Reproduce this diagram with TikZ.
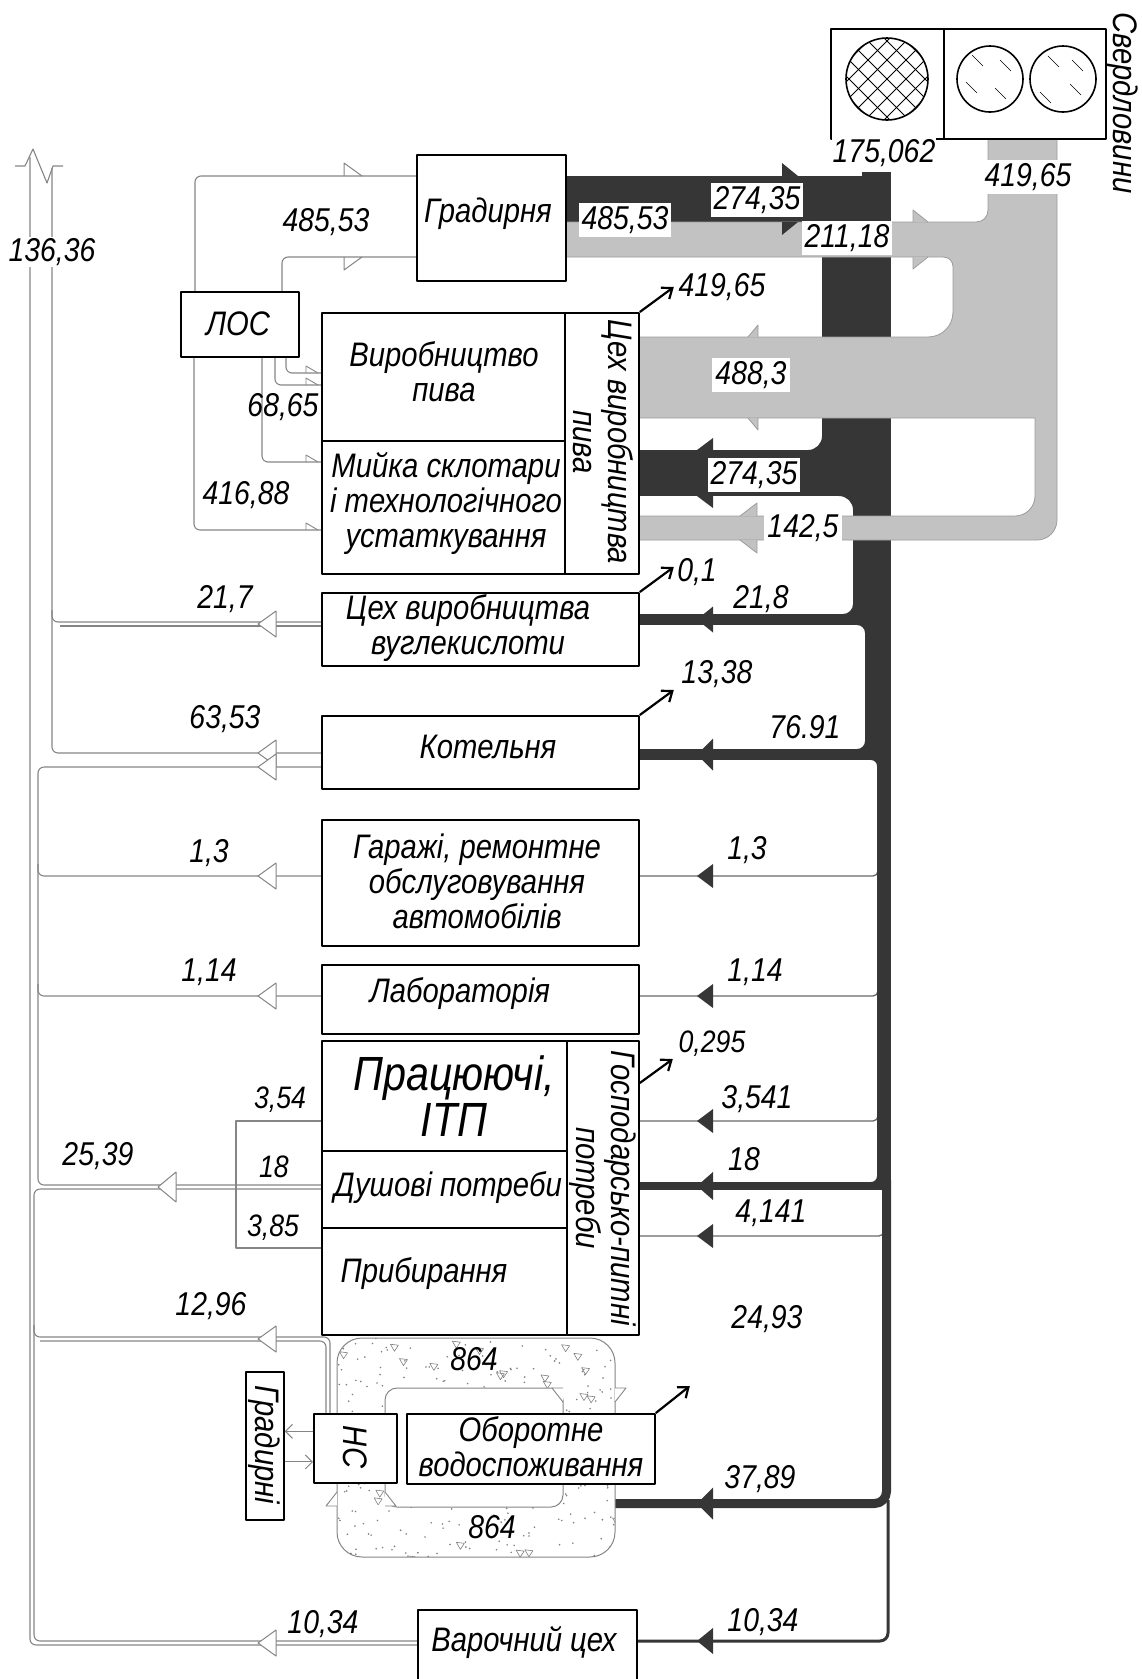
\documentclass[tikz,border=0pt]{standalone}
\usepackage{fontspec}
\setmainfont{Liberation Sans}[FakeStretch=0.86]
\usetikzlibrary{arrows.meta,calc}
\definecolor{dk}{HTML}{363636}
\definecolor{lg}{HTML}{C2C2C2}
\definecolor{lgo}{HTML}{9C9C9C}
\definecolor{ln}{HTML}{858585}
\newcommand\lab{\fontsize{34}{35}\selectfont\itshape}
\newcommand\numf{\fontsize{33}{34}\selectfont\itshape}
\newcommand\smf{\fontsize{31}{32}\selectfont\itshape}
\newcommand\fillet[5]{\fill[dk] (#1,#2) -- (#1,{#2+(#4)*(#5)}) .. controls (#1,{#2+(#4)*0.448*(#5)}) and ({#1+(#3)*0.448*(#5)},#2) .. ({#1+(#3)*(#5)},#2) -- cycle;}
\newcommand\harr[3]{\filldraw[draw=ln, fill=white, line width=1pt] (#1,#2) -- ({#1+18},{#2-#3}) -- ({#1+18},{#2+#3}) -- cycle;}
\newcommand\darr[2]{\fill[dk] (697,#1) -- (713,{#1-#2}) -- (713,{#1+#2}) -- cycle;}
\newcommand\bx[5]{\node[box,anchor=north west,minimum width={#4-#2},minimum height={#5-#3}] (#1) at (#2,#3) {};}
\begin{document}
\begin{tikzpicture}[x=1pt,y=-1pt,line join=round,
  box/.style={draw=black,line width=1.8pt,fill=white,inner sep=0pt},
  txt/.style={font=\lab,align=center,inner sep=0pt},
  num/.style={font=\numf,inner sep=1pt},
  wnum/.style={font=\numf,fill=white,inner sep=3pt},
  pipe/.style={draw=ln,line width=1.1pt,rounded corners=6pt},
  rline/.style={draw=dk!75,line width=1.3pt,rounded corners=5pt},
  outarr/.style={-{Straight Barb[length=9pt,width=14pt,line width=2.2pt]},line width=2.2pt,black}]
\useasboundingbox (0,0) rectangle (1142,1679);

% ---------- left collector pipes ----------
\draw[pipe] (30,157) -- (30,1645) -- (417,1645);
\draw[pipe] (52,168) -- (52,753) -- (321,753);
\draw[pipe] (52,610) -- (52,622) -- (321,622);
\draw[pipe] (60,626) -- (321,626);
\draw[pipe] (321,767) -- (38,767) -- (38,1185) -- (321,1185);
\draw[pipe] (38,864) -- (38,876) -- (321,876);
\draw[pipe] (38,984) -- (38,996) -- (321,996);
\draw[pipe] (321,1189) -- (34,1189) -- (34,1641) -- (417,1641);
\draw[pipe] (34,1325) -- (34,1337) -- (330,1337) -- (330,1413);
\draw[pipe] (40,1341) -- (326,1341) -- (326,1413);
\draw[pipe,sharp corners] (321,1121) -- (236,1121) -- (236,1248) -- (321,1248);
\draw[ln,line width=1.1pt] (15,166) -- (25,166) -- (33,149) -- (47,183) -- (53,166) -- (63,166);

% ---------- LOS pipes ----------
\draw[pipe] (195,291) -- (195,176) -- (416,176);
\draw[pipe] (282,291) -- (282,257) -- (416,257);
\draw[ln,line width=1pt] (344,176) -- (344,163) -- (362,176);
\draw[ln,line width=1pt] (344,257) -- (344,270) -- (362,257);
\draw[pipe] (286,356) -- (286,373) -- (321,373);
\draw[pipe] (275,356) -- (275,385) -- (321,385);
\draw[pipe] (262,356) -- (262,462) -- (321,462);
\draw[pipe] (194,356) -- (194,530) -- (321,530);
\foreach \yy in {373,385,462,530}{\draw[ln,line width=0.9pt] (306,\yy) -- (306,\yy-7) -- (318,\yy);}

% ---------- right thin supply lines ----------
\draw[rline] (638,876) -- (878,876) -- (878,862);
\draw[rline] (638,996) -- (878,996) -- (878,982);
\draw[rline] (638,1121) -- (878,1121) -- (878,1107);
\draw[rline] (638,1236) -- (884,1236) -- (884,1222);

% ---------- dark tree ----------
\fill[dk,rounded corners=10pt] (565,176) rectangle (872,222);
\fill[dk] (565,176) rectangle (820,222);
\fill[dk] (862,172) rectangle (891,260);
\fill[dk] (822,222) rectangle (891,496);
\fill[dk] (637,450) rectangle (830,496);
\fillet{822}{450}{-1}{-1}{14}
\fill[dk] (853,490) rectangle (891,625);
\fillet{853}{496}{-1}{1}{14}
\fill[dk] (637,614) rectangle (870,625);
\fillet{853}{614}{-1}{-1}{10}
\fill[dk] (865,614) rectangle (891,760);
\fillet{865}{625}{-1}{1}{8}
\fill[dk] (637,749) rectangle (880,760);
\fillet{865}{749}{-1}{-1}{8}
\fill[dk] (877,749) rectangle (891,1190);
\fillet{877}{760}{-1}{1}{6}
\fill[dk] (637,1182) rectangle (885,1190);
\fillet{877}{1182}{-1}{-1}{6}
\draw[dk,line width=9pt,rounded corners=12pt] (600,1503.5) -- (886.5,1503.5) -- (886.5,1180);
\draw[dk,line width=3pt,rounded corners=8pt] (888,1500) -- (888,1641) -- (636,1641);

% ---------- gray tree ----------
\filldraw[fill=lg,draw=lgo,line width=0.8pt] (988,138) -- (1057,138) -- (1057,520) .. controls (1057,531) and (1048,540) .. (1037,540) -- (637,540) -- (637,516) -- (1015,516) .. controls (1026,516) and (1035,507) .. (1035,496) -- (1035,418) -- (637,418) -- (637,337) -- (928,337) .. controls (942,337) and (953,326) .. (953,312) -- (953,267) .. controls (953,261) and (949,257) .. (943,257) -- (565,257) -- (565,222) -- (976,222) .. controls (983,222) and (988,217) .. (988,210) -- cycle;
\filldraw[fill=lg,draw=lgo,line width=0.8pt] (928,222) -- (913,210) -- (913,222);
\filldraw[fill=lg,draw=lgo,line width=0.8pt] (928,257) -- (913,269) -- (913,257);
\filldraw[fill=lg,draw=lgo,line width=0.8pt] (748,337) -- (758,325) -- (758,337);
\filldraw[fill=lg,draw=lgo,line width=0.8pt] (748,418) -- (758,430) -- (758,418);
\filldraw[fill=lg,draw=lgo,line width=0.8pt] (740,516) -- (757,503) -- (757,516);
\filldraw[fill=lg,draw=lgo,line width=0.8pt] (740,540) -- (757,553) -- (757,540);
% dark barbs
\fill[dk] (798,176) -- (782,163) -- (782,176) -- cycle;
\fill[dk] (798,222) -- (782,235) -- (782,222) -- cycle;
\fill[dk] (697,450) -- (713,438) -- (713,450) -- cycle;
\fill[dk] (697,496) -- (713,508) -- (713,496) -- cycle;
\darr{619.5}{13}
\darr{754.5}{16}
\darr{876}{12}
\darr{996}{12}
\darr{1121}{12}
\darr{1186}{14}
\darr{1236}{12}
\darr{1503.5}{16}
\darr{1641}{13}

% hollow arrows on the left
\harr{258}{624}{13}
\harr{258}{753}{13}
\harr{258}{767}{13}
\harr{258}{876}{13}
\harr{258}{996}{13}
\harr{158}{1187}{15}
\harr{258}{1339}{13}
\harr{258}{1643}{13}

% ---------- stippled ring ----------
\begin{scope}[even odd rule,rounded corners=25pt]
\clip (337,1338) rectangle (615,1557) [rounded corners=12pt] (385,1388) rectangle (563,1507);
\fill[white,sharp corners] (330,1330) rectangle (620,1560);
\pgfmathsetseed{42}
\foreach \i in {1,...,300}{\pgfmathsetmacro\px{337+278*rnd}\pgfmathsetmacro\py{1338+219*rnd}\fill[gray] (\px,\py) circle (0.9pt);}
\foreach \i in {1,...,34}{\pgfmathsetmacro\px{337+278*rnd}\pgfmathsetmacro\py{1338+219*rnd}\draw[gray,line width=0.6pt,sharp corners] (\px,\py) -- ++(8,1) -- ++(-4,6) -- cycle;}
\end{scope}
\draw[ln,line width=1pt,rounded corners=25pt] (337,1338) rectangle (615,1557);
\draw[ln,line width=1pt,rounded corners=12pt] (385,1388) rectangle (563,1507);
\filldraw[draw=ln,fill=white,line width=0.9pt] (615,1402) -- (626,1388) -- (615,1388);
\filldraw[draw=ln,fill=white,line width=0.9pt] (563,1402) -- (552,1388) -- (563,1388);
\filldraw[draw=ln,fill=white,line width=0.9pt] (337,1492) -- (326,1506) -- (337,1506);
\filldraw[draw=ln,fill=white,line width=0.9pt] (385,1492) -- (396,1506) -- (385,1506);
\node[num] (n864a) at (474,1359) {864};
\node[num] (n864b) at (492,1527) {864};

% ---------- boxes ----------
\bx{w1}{830}{28}{943}{138}
\bx{w2}{943}{28}{1105}{138}
\bx{grad}{416}{154}{565}{280}
\bx{los}{180}{291}{298}{356}
\bx{pivo}{321}{312}{638}{573}
\draw[line width=1.8pt] (565,312) -- (565,573) (321,441) -- (565,441);
\bx{ug}{321}{592}{638}{665}
\bx{kot}{321}{715}{638}{788}
\bx{gar}{321}{819}{638}{945}
\bx{labr}{321}{964}{638}{1033}
\bx{hp}{321}{1040}{638}{1334}
\draw[line width=1.8pt] (567,1040) -- (567,1334) (321,1151) -- (567,1151) (321,1228) -- (567,1228);
\bx{gr}{245}{1371}{283}{1519}
\bx{hs}{313}{1413}{396}{1482}
\bx{ob}{406}{1413}{654}{1483}
\bx{var}{417}{1609}{636}{1695}

% wells
\begin{scope}
\clip (887,79) circle (41);
\foreach \d in {-152,-133,...,152}{\draw[line width=0.8pt] (887+\d-60,19) -- (887+\d+60,139); \draw[line width=0.8pt] (887+\d+60,19) -- (887+\d-60,139);}
\end{scope}
\draw[line width=1.6pt] (887,79) circle (41);
\draw[line width=1.6pt] (990,79) circle (33);
\draw[line width=1.6pt] (1063,79) circle (33);
\foreach \a/\b in {972/55,995/88,966/82,1000/60,1048/56,1070/84,1040/92,1072/60}{\draw[line width=0.6pt] (\a,\b) -- ++(11,11);}

% HC <-> Gradirni
\draw[ln,line width=1pt,-{Straight Barb[length=7pt,width=14pt]}] ([yshift=17pt]hs.west) -- ([yshift=17pt]hs.west -| gr.east);
\draw[ln,line width=1pt,-{Straight Barb[length=7pt,width=14pt]}] ([yshift=-16pt]gr.east) -- ([yshift=-16pt]gr.east -| hs.west);

% ---------- box texts ----------
\node[txt] (tgrad) at (488,214) {Градирня};
\node[txt] (tlos) at (238,324) {ЛОС};
\node[txt] (tpivo) at (444,372) {Виробництво\\пива};
\node[txt] (tmyika) at (446,503) {Мийка склотари\\і технологічного\\устаткування};
\node[txt,rotate=-90] (tcex) at (603,442) {Цех виробництва\\пива};
\node[txt] (tug) at (468,628) {Цех виробництва\\вуглекислоти};
\node[txt] (tkot) at (488,747) {Котельня};
\node[txt] (tgar) at (477,881) {Гаражі, ремонтне\\обслуговування\\автомобілів};
\node[txt] (tlab) at (460,994) {Лабораторія};
\node[txt,font=\fontsize{48}{46}\selectfont\itshape] (tprac) at (454,1096) {Працюючі,\\ІТП};
\node[txt] (tdush) at (448,1188) {Душові потреби};
\node[txt] (tprib) at (424,1274) {Прибирання};
\node[txt,rotate=-90] (thp) at (603,1188) {Господарсько-питні\\потреби};
\node[txt,rotate=-90] (ths) at (355,1447) {НС};
\node[txt] (tob) at (531,1447) {Оборотне\\водоспоживання};
\node[txt,rotate=-90] (tgr) at (264,1445) {Градирні};
\node[txt] (tvar) at (524,1642) {Варочний цех};
\node[txt,rotate=-90] (tsv) at (1122,103) {Свердловини};

% ---------- out arrows ----------
\draw[outarr] (pivo.north east) -- ++(34,-25);
\draw[outarr] (ug.north east) -- ++(34,-25);
\draw[outarr] (kot.north east) -- ++(34,-25);
\draw[outarr] ([yshift=-43pt]hp.north east) -- ++(33,-24);
\draw[outarr] (ob.north east) -- ++(34,-27);

% ---------- labels ----------
\node[wnum] (l274a) at (757,200) {274,35};
\node[wnum] (l485b) at (625,220) {485,53};
\node[wnum] (l211) at (847,238) {211,18};
\node[wnum] (l488) at (751,375) {488,3};
\node[wnum] (l274b) at (754,475) {274,35};
\node[wnum,inner ysep=1pt] (l142) at (803,528) {142,5};
\node[wnum,inner sep=1pt] (l175) at (884,153) {175,062};
\node[wnum] (l419a) at (1028,177) {419,65};
\node[num,fill=white] (l136) at (52,252) {136,36};
\node[num] (l485a) at (326,222) {485,53};
\node[num] (l6865) at (283,407) {68,65};
\node[num] (l41688) at (246,495) {416,88};
\node[num] (l419b) at (722,287) {419,65};
\node[num] (l01) at (697,572) {0,1};
\node[num] (l217) at (225,599) {21,7};
\node[num] (l218) at (761,599) {21,8};
\node[num] (l1338) at (717,674) {13,38};
\node[num] (l6353) at (225,719) {63,53};
\node[num] (l7691) at (805,727) {76.91};
\node[num] (l13a) at (209,853) {1,3};
\node[num] (l13b) at (747,850) {1,3};
\node[num] (l114a) at (209,972) {1,14};
\node[num] (l114b) at (755,972) {1,14};
\node[num,font=\smf] (l0295) at (712,1044) {0,295};
\node[num,font=\smf] (l354) at (280,1100) {3,54};
\node[num] (l3541) at (757,1099) {3,541};
\node[num] (l2539) at (98,1156) {25,39};
\node[num,font=\smf] (l18a) at (274,1167) {18};
\node[num] (l18b) at (744,1159) {18};
\node[num,font=\smf] (l385) at (273,1228) {3,85};
\node[num] (l4141) at (771,1213) {4,141};
\node[num] (l1296) at (211,1306) {12,96};
\node[num] (l2493) at (767,1319) {24,93};
\node[num] (l3789) at (760,1479) {37,89};
\node[num] (l1034a) at (323,1624) {10,34};
\node[num] (l1034b) at (763,1622) {10,34};
\end{tikzpicture}
\end{document}
